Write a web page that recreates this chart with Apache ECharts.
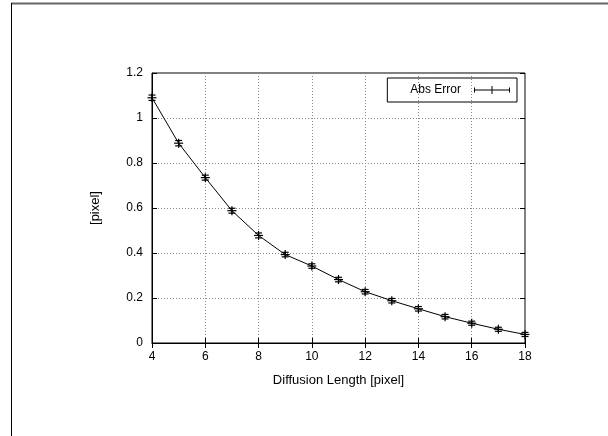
<!DOCTYPE html>
<html>
<head>
<meta charset="utf-8">
<script src="https://cdn.jsdelivr.net/npm/echarts@6/dist/echarts.min.js"></script>
<style>
  html, body { margin: 0; padding: 0; background: #fff; }
  #chart { width: 608px; height: 436px; }
</style>
</head>
<body>
<div id="chart"></div>
<script>
// data
var diffLength = [4, 5, 6, 7, 8, 9, 10, 11, 12, 13, 14, 15, 16, 17, 18];
var absError = [1.09, 0.888, 0.735, 0.588, 0.478, 0.393, 0.342, 0.282, 0.228, 0.188, 0.152, 0.117, 0.088, 0.061, 0.038];
var errBar = [0.012, 0.012, 0.011, 0.011, 0.011, 0.010, 0.010, 0.010, 0.010, 0.010, 0.010, 0.010, 0.009, 0.009, 0.009];
var xTicks = [4, 6, 8, 10, 12, 14, 16, 18];
var yTicks = [0, 0.2, 0.4, 0.6, 0.8, 1, 1.2];

var lineData = diffLength.map(function (x, i) { return [x, absError[i]]; });
var barData = diffLength.map(function (x, i) { return [x, absError[i], errBar[i]]; });

var font = 'Liberation Sans, Arial, sans-serif';
var chart = echarts.init(document.getElementById('chart'));

// error bars + plus markers
function renderErr(params, api) {
  var x = api.value(0), y = api.value(1), e = api.value(2);
  var c = api.coord([x, y]);
  var lo = api.coord([x, y - e]);
  var hi = api.coord([x, y + e]);
  var st = { stroke: '#000', lineWidth: 1.2 };
  var cap = 3.5, pl = 4.5;
  return {
    type: 'group',
    children: [
      { type: 'line', shape: { x1: c[0], y1: lo[1], x2: c[0], y2: hi[1] }, style: st },
      { type: 'line', shape: { x1: c[0] - cap, y1: lo[1], x2: c[0] + cap, y2: lo[1] }, style: st },
      { type: 'line', shape: { x1: c[0] - cap, y1: hi[1], x2: c[0] + cap, y2: hi[1] }, style: st },
      { type: 'line', shape: { x1: c[0] - pl, y1: c[1], x2: c[0] + pl, y2: c[1] }, style: st },
      { type: 'line', shape: { x1: c[0], y1: c[1] - pl, x2: c[0], y2: c[1] + pl }, style: st }
    ]
  };
}

chart.setOption({
  animation: false,
  textStyle: { fontFamily: font },
  grid: { left: 152, right: 83, top: 73, bottom: 93, show: true, borderColor: '#000', borderWidth: 1 },
  legend: {
    data: [{
      name: 'Abs Error',
      icon: 'path://M0,3.5h36v1h-36z M0,1.5h1v5h-1z M35,1.5h1v5h-1z M17.5,0h1v8h-1z'
    }],
    right: 91,
    top: 78,
    align: 'right',
    itemWidth: 36,
    itemHeight: 8,
    itemGap: 0,
    padding: [6, 7, 6, 23],
    borderColor: '#000',
    borderWidth: 1,
    borderRadius: 0,
    itemStyle: { color: '#000', borderWidth: 0 },
    textStyle: { fontSize: 12, color: '#000', fontFamily: font, padding: [0, 8, 0, 0] }
  },
  xAxis: [{
    type: 'value', min: 4, max: 18, interval: 2,
    name: 'Diffusion Length [pixel]', nameLocation: 'middle', nameGap: 31,
    nameTextStyle: { fontSize: 13, color: '#000', fontFamily: font },
    axisLine: { show: true, lineStyle: { color: '#000', width: 1 } },
    axisTick: { inside: true, length: 5, lineStyle: { color: '#000' } },
    axisLabel: { fontSize: 12, color: '#000', margin: 8,
      formatter: function (v) { return xTicks.indexOf(v) >= 0 ? String(v) : ''; } },
    splitLine: { show: true, lineStyle: { color: '#888', type: [1, 2], width: 1 } }
  }, {
    type: 'value', min: 4, max: 18, interval: 2, position: 'top',
    axisLine: { show: false },
    axisTick: { inside: true, length: 5, lineStyle: { color: '#000' } },
    axisLabel: { show: false },
    splitLine: { show: false }
  }],
  yAxis: [{
    type: 'value', min: 0, max: 1.2, interval: 0.2,
    name: '[pixel]', nameLocation: 'middle', nameGap: 50,
    nameTextStyle: { fontSize: 13, color: '#000', fontFamily: font },
    axisLine: { show: true, lineStyle: { color: '#000', width: 1 } },
    axisTick: { show: true, inside: true, length: 5, lineStyle: { color: '#000' } },
    axisLabel: { fontSize: 12, color: '#000', margin: 9,
      formatter: function (v) {
        for (var i = 0; i < yTicks.length; i++) {
          if (Math.abs(yTicks[i] - v) < 1e-9) return String(yTicks[i]);
        }
        return '';
      } },
    splitLine: { show: true, lineStyle: { color: '#888', type: [1, 2], width: 1 } }
  }, {
    type: 'value', min: 0, max: 1.2, interval: 0.2, position: 'right',
    axisLine: { show: false },
    axisTick: { show: true, inside: true, length: 5, lineStyle: { color: '#000' } },
    axisLabel: { show: false },
    splitLine: { show: false }
  }],
  series: [{
    name: 'Abs Error',
    type: 'line',
    data: lineData,
    symbol: 'none',
    lineStyle: { color: '#000', width: 1 },
    itemStyle: { color: '#000' },
    z: 3
  }, {
    type: 'custom',
    data: barData,
    renderItem: renderErr,
    encode: { x: 0, y: 1 },
    z: 4
  }],
  // page frame lines seen at the edges of the picture
  graphic: [
    { type: 'line', shape: { x1: 11, y1: 3.5, x2: 608, y2: 3.5 }, style: { stroke: '#666', lineWidth: 2 } },
    { type: 'line', shape: { x1: 11.5, y1: 3, x2: 11.5, y2: 436 }, style: { stroke: '#000', lineWidth: 1 } }
  ]
});
</script>
</body>
</html>
